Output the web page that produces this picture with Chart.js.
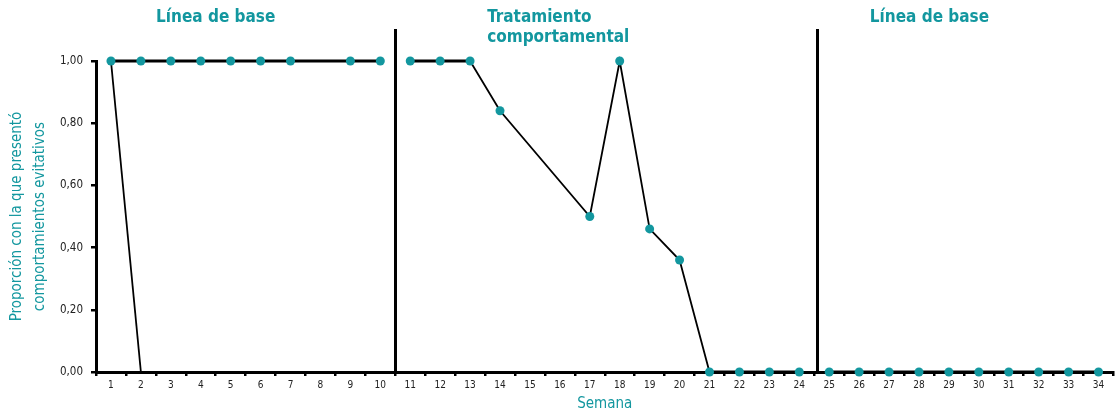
<!DOCTYPE html>
<html>
<head>
<meta charset="utf-8">
<script src="https://cdn.jsdelivr.net/npm/chart.js@4/dist/chart.umd.min.js"></script>
<style>
  html, body { margin: 0; padding: 0; background: #fff; }
  #wrap { width: 1118px; height: 413px; position: relative; }
</style>
</head>
<body>
<div id="wrap"><canvas id="chart"></canvas></div>
<script>
// semanas 1..34
const weeks = ['1','2','3','4','5','6','7','8','9','10','11','12','13','14','15','16','17',
               '18','19','20','21','22','23','24','25','26','27','28','29','30','31','32','33','34'];

// línea de base (semana 8 sin registro)
const baseline1 = [1, 1, 1, 1, 1, 1, 1, null, 1, 1];
// caída semana 1 -> 2
const dropLine = [1, 0];
// tratamiento comportamental (semanas 11-24)
const treatment = [1, 1, 1, 0.84, null, null, 0.50, 1, 0.46, 0.36, 0, 0, 0, 0];
// segunda línea de base (semanas 25-34)
const baseline2 = [0, 0, 0, 0, 0, 0, 0, 0, 0, 0];

const yTicks = [0, 0.2, 0.4, 0.6, 0.8, 1.0];
const phaseTitles = ['Línea de base', 'Tratamiento\ncomportamental', 'Línea de base'];

const TEAL = '#13979f';
const FONT = '"Liberation Sans Narrow", "DejaVu Sans Condensed", "Roboto Condensed", "Liberation Sans", sans-serif';

function padTo(arr, start) {
    const out = new Array(weeks.length).fill(null);
    arr.forEach((v, i) => { out[start + i] = v; });
    return out;
}

// horizontales más gruesas que las diagonales (saltando los huecos)
function nextValue(data, i) {
    while (i < data.length && data[i] === null) i++;
    return data[i];
}
function prevValue(data, i) {
    while (i >= 0 && data[i] === null) i--;
    return data[i];
}
const segWidth = {
    borderWidth: ctx => {
        const data = ctx.chart.data.datasets[ctx.datasetIndex].data;
        const a = prevValue(data, ctx.p0DataIndex);
        const b = nextValue(data, ctx.p1DataIndex);
        return a === b ? 3 : 1.8;
    }
};

const phasePlugin = {
    id: 'phases',
    afterDraw(chart) {
        const ctx = chart.ctx;
        const x = chart.scales.x;
        const area = chart.chartArea;
        ctx.save();
        // separadores de fase
        ctx.strokeStyle = '#000';
        ctx.lineWidth = 3;
        [9.5, 23.6].forEach(v => {
            const px = Math.round(x.getPixelForValue(v)) + 0.5;
            ctx.beginPath();
            ctx.moveTo(px, 29);
            ctx.lineTo(px, area.bottom);
            ctx.stroke();
        });
        // títulos de fase
        ctx.fillStyle = TEAL;
        ctx.font = 'bold 17px ' + FONT;
        ctx.textBaseline = 'middle';
        ctx.textAlign = 'center';
        ctx.fillText(phaseTitles[0], x.getPixelForValue(3.5), 18);
        ctx.textAlign = 'left';
        const lines = phaseTitles[1].split('\n');
        lines.forEach((l, i) => ctx.fillText(l, x.getPixelForValue(12.57), 18 + i * 20));
        ctx.textAlign = 'center';
        ctx.fillText(phaseTitles[2], x.getPixelForValue(27.35), 18);
        ctx.restore();
    }
};

const config = {
    type: 'line',
    data: {
        labels: weeks,
        datasets: [
            {
                data: padTo(baseline1, 0),
                spanGaps: true,
                segment: segWidth
            },
            {
                data: padTo(treatment, 10),
                spanGaps: true,
                segment: segWidth
            },
            {
                data: padTo(baseline2, 24),
                segment: segWidth
            },
            {
                data: padTo(dropLine, 0),
                pointRadius: 0,
                borderWidth: 1.8
            }
        ].map(ds => Object.assign({
            borderColor: '#000',
            borderWidth: 3,
            pointRadius: 4.5,
            pointHoverRadius: 4.5,
            pointBackgroundColor: TEAL,
            pointBorderColor: TEAL,
            pointBorderWidth: 0,
            tension: 0,
            clip: false
        }, ds))
    },
    options: {
        responsive: true,
        maintainAspectRatio: false,
        animation: false,
        events: [],
        layout: { padding: { top: 61, right: 2, left: 0, bottom: 0 } },
        plugins: {
            legend: { display: false },
            tooltip: { enabled: false }
        },
        scales: {
            x: {
                offset: true,
                grid: {
                    offset: true,
                    drawOnChartArea: false,
                    drawTicks: true,
                    tickLength: 4,
                    color: '#000',
                    lineWidth: 2.5
                },
                border: { color: '#000', width: 3 },
                ticks: {
                    color: '#222',
                    font: { family: FONT, size: 10 },
                    padding: 3,
                    maxRotation: 0,
                    autoSkip: false
                },
                title: {
                    display: true,
                    text: 'Semana',
                    color: TEAL,
                    font: { family: FONT, size: 15 },
                    padding: { top: 0, bottom: 0 }
                },
                afterFit: s => { s.height = 41; }
            },
            y: {
                min: 0,
                max: 1,
                afterBuildTicks: s => { s.ticks = yTicks.map(v => ({ value: v })); },
                grid: {
                    drawOnChartArea: false,
                    drawTicks: true,
                    tickLength: 5,
                    color: '#000',
                    lineWidth: 2.5
                },
                border: { color: '#000', width: 3 },
                ticks: {
                    color: '#222',
                    font: { family: FONT, size: 11.5 },
                    padding: 8,
                    callback: v => v.toFixed(2).replace('.', ',')
                },
                title: {
                    display: true,
                    text: ['Proporción con la que presentó', 'comportamientos evitativos'],
                    color: TEAL,
                    font: { family: FONT, size: 15, lineHeight: 1.5 },
                    padding: { top: 6, bottom: 0 }
                },
                afterFit: s => { s.width = 96; }
            }
        }
    },
    plugins: [phasePlugin]
};

new Chart(document.getElementById('chart'), config);
</script>
</body>
</html>
